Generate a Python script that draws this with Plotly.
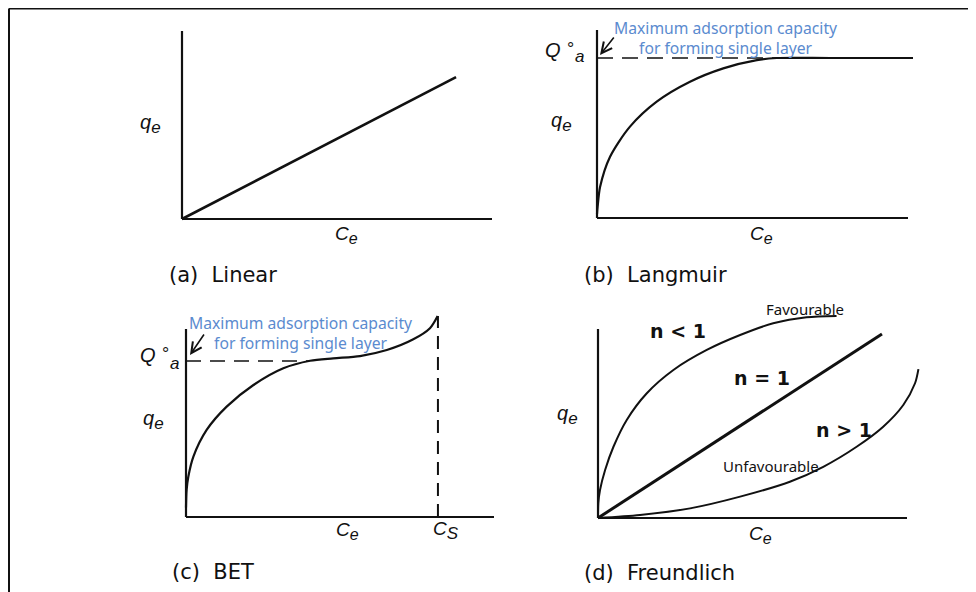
import plotly.graph_objects as go

# The page body adds an 8px margin, so the figure is drawn 8px in from the corner.
OFF = 8
W, H = 976 - OFF, 592 - OFF

# ---------------- data (normalised: 1 = full axis length) ----------------
linear_x = [0.0, 0.884]
linear_y = [0.0, 0.755]

langmuir_x = [0.0, 0.002, 0.010, 0.042, 0.106, 0.192, 0.299, 0.406, 0.514, 0.578, 0.75, 1.016]
langmuir_y = [0.02, 0.060, 0.166, 0.326, 0.486, 0.619, 0.725, 0.796, 0.840, 0.851, 0.851, 0.851]
langmuir_q = 0.851          # monolayer capacity level
langmuir_q_end = 1.016

bet_x = [0.0, 0.002, 0.0075, 0.024, 0.067, 0.132, 0.219, 0.316, 0.403, 0.478, 0.565, 0.652, 0.738, 0.792, 0.817]
bet_y = [0.05, 0.144, 0.214, 0.321, 0.463, 0.587, 0.702, 0.791, 0.831, 0.844, 0.856, 0.888, 0.945, 1.004, 1.069]
bet_q = 0.830
bet_q_end = 0.40
bet_cs = 0.818
bet_cs_top = 1.069

fr_lt1_x = [0.0, 0.001, 0.0065, 0.023, 0.050, 0.093, 0.158, 0.244, 0.352, 0.460, 0.567, 0.675, 0.772]
fr_lt1_y = [0.0, 0.078, 0.148, 0.254, 0.377, 0.519, 0.660, 0.783, 0.889, 0.968, 1.030, 1.062, 1.069]
fr_eq1_x = [0.0, 0.919]
fr_eq1_y = [0.0, 0.974]
fr_gt1_x = [0.0, 0.136, 0.298, 0.460, 0.621, 0.729, 0.837, 0.923, 0.988, 1.026, 1.037]
fr_gt1_y = [0.0, 0.016, 0.051, 0.113, 0.192, 0.271, 0.377, 0.483, 0.598, 0.713, 0.788]

axis_extent = [0.0, 1.0]

panel_titles = ["(a)\u00a0\u00a0Linear", "(b)\u00a0\u00a0Langmuir", "(c)\u00a0\u00a0BET", "(d)\u00a0\u00a0Freundlich"]
note_text = "Maximum adsorption capacity<br>for forming single layer"

# ---------------- layout helpers ----------------
INK = "#111111"
BLUE = "#5b8bcf"
LBL = "Liberation Sans"

panels = {
    # name: (origin x px, origin y px, x-axis length px, y-axis length px) in page pixels
    "a": (182, 219, 310, 188),
    "b": (597, 218, 311, 188),
    "c": (186, 517, 308, 188),
    "d": (598, 518, 309, 189),
}
PADL, PADR, PADB, PADT = 12, 25, 12, 30

fig = go.Figure()
layout_axes = {}
refs = {}
for i, (name, (ox, oy, lx, ly)) in enumerate(panels.items(), start=1):
    ox, oy = ox - OFF, oy - OFF
    sfx = "" if i == 1 else str(i)
    xa, ya = "xaxis" + sfx, "yaxis" + sfx
    refs[name] = ("x" + sfx, "y" + sfx)
    left = max(ox - PADL, 0)
    right = min(ox + lx + PADR, W)
    top = max(oy - ly - PADT, 0)
    bottom = min(oy + PADB, H)
    layout_axes[xa] = dict(domain=[left / W, right / W],
                           range=[(left - ox) / lx, (right - ox) / lx], visible=False,
                           anchor="y" + sfx, fixedrange=True)
    layout_axes[ya] = dict(domain=[1 - bottom / H, 1 - top / H],
                           range=[(oy - bottom) / ly, (oy - top) / ly], visible=False,
                           anchor="x" + sfx, fixedrange=True)
fig.update_layout(**layout_axes)


def P(px, py):
    return (px - OFF) / W, 1 - (py - OFF) / H


def add_line(name, xs, ys, width=2.0, dash=None, shape="spline"):
    xr, yr = refs[name]
    fig.add_trace(go.Scatter(x=xs, y=ys, mode="lines", xaxis=xr, yaxis=yr,
                             line=dict(color=INK, width=width, dash=dash, shape=shape,
                                       smoothing=0.8 if shape == "spline" else None),
                             hoverinfo="skip", showlegend=False))


# axes lines of every panel
for name in panels:
    add_line(name, axis_extent, [0, 0], width=2.2, shape="linear")
    add_line(name, [0, 0], axis_extent, width=2.2, shape="linear")

# (a) linear
add_line("a", linear_x, linear_y, width=2.6, shape="linear")
# (b) Langmuir
add_line("b", [0, langmuir_q_end], [langmuir_q, langmuir_q], width=1.6, dash="16px,9px", shape="linear")
add_line("b", langmuir_x, langmuir_y, width=2.2)
# (c) BET
add_line("c", [0, bet_q_end], [bet_q, bet_q], width=1.6, dash="15px,9px", shape="linear")
add_line("c", [bet_cs, bet_cs], [0, bet_cs_top], width=2.0, dash="13px,8px", shape="linear")
add_line("c", bet_x, bet_y, width=2.2)
# (d) Freundlich
add_line("d", fr_lt1_x, fr_lt1_y, width=2.0)
add_line("d", fr_eq1_x, fr_eq1_y, width=3.0, shape="linear")
add_line("d", fr_gt1_x, fr_gt1_y, width=2.0)

# ---------------- text ----------------
ann = []


def text(px, py, s, size, color=INK, family=LBL, xanchor="center"):
    x, y = P(px, py)
    ann.append(dict(x=x, y=y, xref="paper", yref="paper", text=s, showarrow=False,
                    xanchor=xanchor, yanchor="middle",
                    font=dict(family=family, size=size, color=color)))


qe = "<i>q</i><sub><span style='font-size:17px'><i>e</i></span></sub>"
ce = "<i>C</i><sub><span style='font-size:16px'><i>e</i></span></sub>"

# axis labels
for (qx, qy), (cx, cy) in [((150, 124), (346, 235)), ((561, 122), (761, 235)),
                           ((153, 420), (347, 531)), ((567, 415), (760, 535))]:
    text(qx, qy, qe, 20)
    text(cx, cy, ce, 19)
text(446, 530, "<i>C</i><sub><span style='font-size:17px'><i>S</i></span></sub>", 19)

# Q°a labels: Q, a degree sign above, and a subscript a just after it
for (qx, qy), (dx, dy), (sx, sy) in [((563, 50), (565, 49), (573, 56)),
                                     ((158, 355), (160, 354), (168, 363))]:
    text(qx, qy, "<i>Q</i>", 20, xanchor="right")
    text(dx, dy, "°", 18, xanchor="left")
    text(sx, sy, "<i>a</i>", 17, xanchor="left")

# panel titles
text(167, 275, panel_titles[0], 21, xanchor="left", family="DejaVu Sans")
text(582, 275, panel_titles[1], 21, xanchor="left", family="DejaVu Sans")
text(170, 572, panel_titles[2], 21, xanchor="left", family="DejaVu Sans")
text(582, 573, panel_titles[3], 21, xanchor="left", family="DejaVu Sans")

# blue notes
text(725, 38, note_text, 15.7, color=BLUE, family="Noto Sans")
text(300, 333, note_text, 15.7, color=BLUE, family="Noto Sans")

# Freundlich labels
text(678, 331, "<b>n\u00a0<\u00a01</b>", 19, family="DejaVu Sans")
text(762, 378, "<b>n\u00a0=\u00a01</b>", 19, family="DejaVu Sans")
text(844, 430, "<b>n\u00a0>\u00a01</b>", 19, family="DejaVu Sans")
text(805, 309, "Favourable", 15, family="Noto Sans")
text(771, 466, "Unfavourable", 15, family="Noto Sans")

# arrows
for (hx, hy), (tx, ty) in [((600, 55), (615, 36)), ((190, 355), (205, 333))]:
    x, y = P(hx, hy)
    ann.append(dict(x=x, y=y, xref="paper", yref="paper", text="", showarrow=True,
                    ax=tx - hx, ay=ty - hy, arrowhead=5, arrowsize=1.3, arrowwidth=1.6,
                    arrowcolor=INK, standoff=0, startstandoff=0))

# frame lines (top and left edges of the outer box)
fx0, fy0 = P(8, 7)
fy0 = min(fy0, 1.0) - 0.5 / H
fx0 = fx0 + 1 / W
shapes = [
    dict(type="line", xref="paper", yref="paper", x0=fx0, x1=1.0, y0=fy0, y1=fy0,
         line=dict(color=INK, width=2)),
    dict(type="line", xref="paper", yref="paper", x0=fx0, x1=fx0, y0=fy0, y1=0,
         line=dict(color=INK, width=2)),
]

fig.update_layout(width=W, height=H, margin=dict(l=0, r=0, t=0, b=0),
                  paper_bgcolor="white", plot_bgcolor="rgba(0,0,0,0)",
                  annotations=ann, shapes=shapes, showlegend=False)

fig.write_html("out.html")
